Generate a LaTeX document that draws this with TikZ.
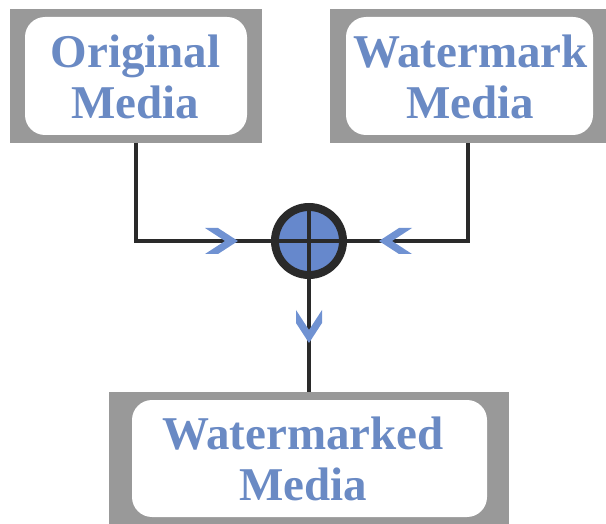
\documentclass[tikz,border=0pt]{standalone}
\usepackage{fontspec}
\setmainfont{Liberation Serif}
\definecolor{gbox}{HTML}{999999}
\definecolor{tblue}{HTML}{6A8AC4}
\definecolor{cblue}{HTML}{6688CC}
\definecolor{chevc}{HTML}{7092D2}
\definecolor{dline}{HTML}{2A2A2A}
\begin{document}
\begin{tikzpicture}[x=1pt,y=-1pt,
  outerbox/.style={fill=gbox,draw=none,inner sep=0pt,outer sep=0pt},
  innerbox/.style={fill=white,draw=none,rounded corners=20pt,inner sep=0pt},
  label/.style={inner sep=0pt,align=center,text=tblue,font=\bfseries\fontsize{47}{51}\selectfont},
  conn/.style={draw=dline,line width=4pt},
  chev/.style={fill=chevc,draw=none}]
\useasboundingbox (0,0) rectangle (606,524);
% boxes
\node[outerbox,minimum width=252pt,minimum height=134pt] (og) at (136,76) {};
\node[innerbox,minimum width=222pt,minimum height=118pt] (o) at (136,76) {};
\node[label] (ot) at (135.5,77) {Original\\Media};
\node[outerbox,minimum width=276pt,minimum height=134pt] (wg) at (468,76) {};
\node[innerbox,minimum width=247pt,minimum height=118pt] (w) at (469.5,76) {};
\node[label] (wt) at (470.5,77) {Watermark\\Media};
\node[outerbox,minimum width=400pt,minimum height=134pt] (bg) at (309,459) {};
\node[innerbox,minimum width=355pt,minimum height=117pt] (b) at (309.5,458.5) {};
\node[label] (bt) at (303,459) {Watermarked\\Media};
% summing junction
\node[circle,draw=dline,line width=8pt,fill=cblue,inner sep=0pt,minimum size=68pt] (sum) at (309,241) {};
\draw[dline,line width=4.5pt] (sum.north) -- (sum.south);
\draw[dline,line width=4.5pt] (sum.west) -- (sum.east);
% connectors
\draw[conn] (og.south) |- (sum.west);
\draw[conn] (wg.south) |- (sum.east);
\draw[conn] (sum.south) -- (bg.north);
% chevrons
\coordinate (lt) at (238,241);
\coordinate (rt) at (379,241);
\coordinate (dt) at (309,343);
\fill[chev,shift={(lt)}] (0,0) -- (-20,-13) -- (-33,-13) -- (-13,0) -- (-33,13) -- (-20,13) -- cycle;
\fill[chev,shift={(rt)},rotate=180] (0,0) -- (-20,-13) -- (-33,-13) -- (-13,0) -- (-33,13) -- (-20,13) -- cycle;
\fill[chev,shift={(dt)},rotate=-90] (0,0) -- (-20,-13) -- (-33,-13) -- (-13,0) -- (-33,13) -- (-20,13) -- cycle;
\end{tikzpicture}
\end{document}
